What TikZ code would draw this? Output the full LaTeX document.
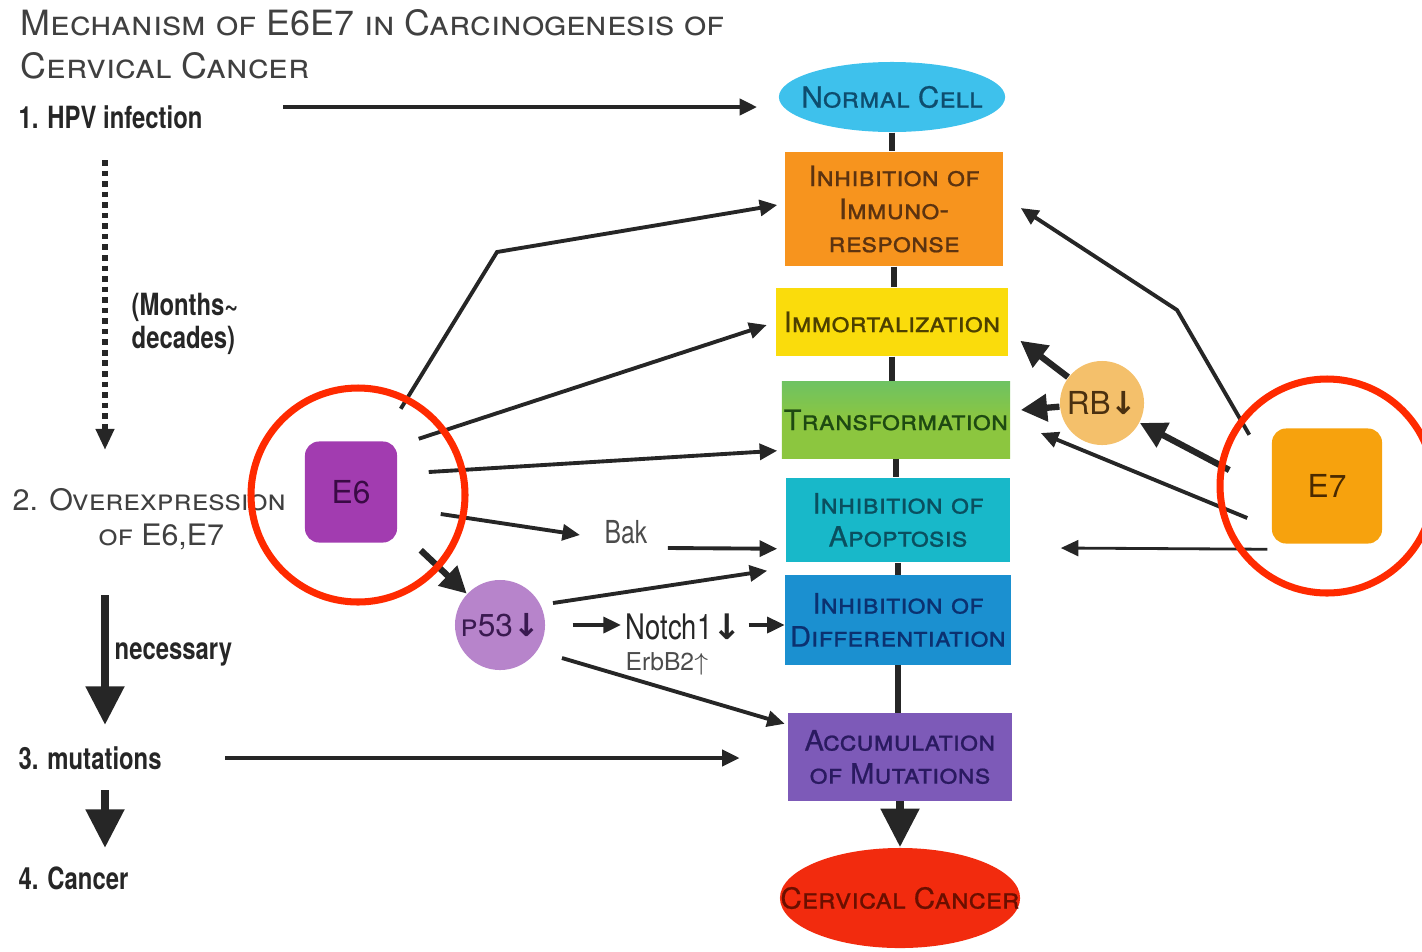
\documentclass[tikz,border=0pt]{standalone}
\usepackage{fontspec}
\setmainfont{TeX Gyre Heros}
\newfontfamily\copfont[FakeStretch=1.03]{TeX Gyre Heros}
\newfontfamily\copbold[FakeStretch=1.03,FakeBold=0.6]{TeX Gyre Heros}
\newfontfamily\condfont[FakeStretch=0.78]{TeX Gyre Heros}
\newfontfamily\symfont{DejaVu Sans}
\usetikzlibrary{arrows.meta,shapes.geometric}

\definecolor{cellcyan}{HTML}{3EC1EC}
\definecolor{cellink}{HTML}{0E4D6E}
\definecolor{immorange}{HTML}{F7941E}
\definecolor{immink}{HTML}{5C3310}
\definecolor{mortyellow}{HTML}{FADC0C}
\definecolor{mortink}{HTML}{4D4000}
\definecolor{transgreen}{HTML}{8CC63F}
\definecolor{transink}{HTML}{1E4A12}
\definecolor{apoteal}{HTML}{18B8C9}
\definecolor{apoink}{HTML}{0A4F5F}
\definecolor{diffblue}{HTML}{1B90D0}
\definecolor{diffink}{HTML}{0B3170}
\definecolor{accpurple}{HTML}{7D5AB8}
\definecolor{accink}{HTML}{2A1A60}
\definecolor{cancred}{HTML}{F22B0E}
\definecolor{cancink}{HTML}{6A0F00}
\definecolor{esixpurple}{HTML}{A23CB0}
\definecolor{esixink}{HTML}{3A0A45}
\definecolor{esevorange}{HTML}{F7A20D}
\definecolor{esevink}{HTML}{4A2A00}
\definecolor{plilac}{HTML}{B784CB}
\definecolor{pink}{HTML}{3A1A50}
\definecolor{rbtan}{HTML}{F4C06B}
\definecolor{rbink}{HTML}{4A3010}
\definecolor{ringred}{HTML}{FF2A00}

\begin{document}
\begin{tikzpicture}[x=0.01cm,y=-0.01cm,
    lbl/.style={inner sep=0pt, anchor=base west, text=black!85,
      font={\condfont\bfseries\fontsize{8.7}{9.4}\selectfont}},
    heading/.style={inner sep=0pt, text=black!75,
      font={\copfont\fontsize{9.9}{12.2}\selectfont\scshape}},
    stage/.style={rectangle, inner sep=0pt, align=center,
      font={\copbold\fontsize{8}{9.4}\selectfont\scshape}},
    oval/.style={ellipse, inner ysep=0pt, align=center,
      font={\copbold\fontsize{8.2}{9.4}\selectfont\scshape}},
    onco/.style={rectangle, rounded corners=4pt, inner sep=0pt,
      font={\fontsize{9}{10}\selectfont}},
    hub/.style={circle, inner sep=0pt, font={\fontsize{9}{10}\selectfont}},
    spine/.style={line width=1.6pt, black!85},
    arr/.style={line width=1.1pt, black!85, -{Triangle[length=5pt,width=4.5pt]}},
    thinarr/.style={line width=0.8pt, black!85, -{Triangle[length=5pt,width=4.5pt]}},
    heavy/.style={line width=1.8pt, black!85, -{Triangle[length=7.5pt,width=7.5pt]}},
    big/.style={line width=2.4pt, black!85, -{Triangle[length=11pt,width=10.5pt]}},
    dotarr/.style={line width=1.6pt, black!85, dash pattern=on 1.6pt off 1.4pt,
      -{Triangle[length=6pt,width=5pt]}},
    ring/.style={line width=2pt, draw=ringred}]

    \useasboundingbox (0,0) rectangle (1422,951);

    % title
    \node[heading, anchor=north west, align=left] (title) at (20,9)
        {Mechanism of E6E7 in Carcinogenesis of\\Cervical Cancer};

    % stages of the cell
    \node[oval, inner xsep=-3pt, fill=cellcyan, text=cellink, minimum width=2.22cm, minimum height=0.70cm] (normal) at (892,97) {Normal Cell};
    \node[stage, fill=immorange, text=immink, minimum width=2.18cm, minimum height=1.14cm] (immuno) at (894,209) {Inhibition of\\Immuno-\\response};
    \node[stage, fill=mortyellow, text=mortink, minimum width=2.31cm, minimum height=0.68cm] (immort) at (892,322) {Immortalization};
    \node[stage, top color=transgreen!75!apoteal, bottom color=transgreen, middle color=transgreen, text=transink, minimum width=2.28cm, minimum height=0.76cm] (transf) at (896,420) {Transformation};
    \node[stage, fill=apoteal, text=apoink, minimum width=2.24cm, minimum height=0.84cm] (apopt) at (898,520) {Inhibition of\\Apoptosis};
    \node[stage, fill=diffblue, text=diffink, minimum width=2.25cm, minimum height=0.89cm] (diff) at (898,620) {Inhibition of\\Differentiation};
    \node[stage, fill=accpurple, text=accink, minimum width=2.23cm, minimum height=0.87cm] (accum) at (900,757) {Accumulation\\of Mutations};
    \node[oval, inner xsep=-10.5pt, fill=cancred, text=cancink, minimum width=2.40cm, minimum height=1.00cm] (cancer) at (900,898) {Cervical Cancer};

    \foreach \a/\b in {normal/immuno, immuno/immort, immort/transf, transf/apopt, apopt/diff, diff/accum}
        \draw[spine] (\a.south) -- (\a.south |- \b.north);
    \draw[big] (accum.south) -- (accum.south |- cancer.north);

    % steps on the left
    \node[lbl] (hpv) at (18,128) {1. HPV infection};
    \node[lbl, anchor=north west, align=left] (months) at (131,292) {(Months\textasciitilde\\decades)};
    \node[heading, anchor=base west, font={\copfont\fontsize{8.4}{10}\selectfont\scshape}] (ovr) at (12,510) {2. Overexpression};
    \node[heading, anchor=base west, font={\copfont\fontsize{8.4}{10}\selectfont\scshape}] (ovr2) at (98,545) {of E6,E7};
    \node[lbl] (need) at (114,659) {necessary};
    \node[lbl] (mut) at (18,769) {3. mutations};
    \node[lbl] (canc) at (18,889) {4. Cancer};

    \draw[arr, line width=1.4pt] ([shift={(265,-21)}]hpv.base west) -- ([shift={(-21,10)}]normal.west);
    \draw[dotarr] ([shift={(87,32)}]hpv.base west) -- ([shift={(93,-60)}]ovr.base west);
    \draw[big] ([shift={(93,85)}]ovr.base west) -- ([shift={(87,-44)}]mut.base west);
    \draw[big] ([shift={(87,21)}]mut.base west) -- ([shift={(87,-41)}]canc.base west);
    \draw[arr, line width=1.4pt] ([shift={(207,-11)}]mut.base west) -- ([shift={(-48,1)}]accum.west);

    % oncoproteins
    \node[onco, fill=esixpurple, text=esixink, minimum width=0.92cm, minimum height=1.01cm] (e6) at (351,492) {E6};
    \node[onco, fill=esevorange, text=esevink, minimum width=1.10cm, minimum height=1.15cm] (e7) at (1327,486) {E7};
    \node[hub, fill=plilac, text=pink, minimum size=0.90cm] (p53) at (500,625) {{\scshape p}53{\symfont\bfseries ↓}};
    \node[hub, fill=rbtan, text=rbink, minimum size=0.84cm] (rb) at (1102,403) {RB{\symfont\bfseries ↓}};
    \node[lbl, font={\condfont\fontsize{9}{10}\selectfont}, text=black!70] (bak) at (604,543) {Bak};
    \node[lbl, font={\condfont\fontsize{10}{11}\selectfont}] (notch) at (625,639) {Notch1{\symfont\bfseries ↓}};
    \node[lbl, font={\fontsize{7}{8}\selectfont}, text=black!70] (erb) at (625,670) {ErbB2$\uparrow$};

    \coordinate (e6bend) at (497,252);
    \coordinate (e7bend) at (1177,310);

    % E6 side
    \draw[arr] ([shift={(3,-32)}]e6.north east) -- (e6bend) -- ([shift={(-7,-4)}]immuno.west);
    \draw[arr] ([shift={(21,-2)}]e6.north east) -- ([shift={(-9,3)}]immort.west);
    \draw[arr] ([shift={(31,-20)}]e6.east) -- ([shift={(-4,-8)}]transf.south west);
    \draw[arr] ([shift={(43,22)}]e6.east) -- ([shift={(-24,-8)}]bak.base west);
    \draw[arr] ([shift={(20,5)}]bak.base east) -- ([shift={(-8,-14)}]apopt.south west);
    \draw[heavy] ([shift={(23,7)}]e6.south east) -- (p53);
    \draw[arr] ([shift={(53,-22)}]p53.center) -- ([shift={(-18,8)}]apopt.south west);
    \draw[arr] ([shift={(27,0)}]p53.east) -- ([shift={(-4,-14)}]notch.base west);
    \draw[arr] ([shift={(6,-14)}]notch.base east) -- ([shift={(0,5)}]diff.west);
    \draw[arr] ([shift={(62,33)}]p53.center) -- ([shift={(-3,11)}]accum.north west);

    % E7 side
    \draw[arr] ([shift={(-22,7)}]e7.north west) -- (e7bend) -- ([shift={(17,-1)}]immuno.east);
    \draw[heavy] ([shift={(-42,-16)}]e7.west) -- (rb);
    \draw[heavy] (rb) -- ([shift={(12,-16)}]immort.south east);
    \draw[heavy] (rb) -- ([shift={(10,-10)}]transf.east);
    \draw[arr] ([shift={(-24,32)}]e7.west) -- ([shift={(30,13)}]transf.east);
    \draw[thinarr] ([shift={(-4,5)}]e7.south west) -- ([shift={(50,28)}]apopt.east);

    % highlight rings
    \draw[ring] ([shift={(7,3)}]e6.center) circle (107);
    \draw[ring] (e7.center) circle (107);
\end{tikzpicture}
\end{document}
